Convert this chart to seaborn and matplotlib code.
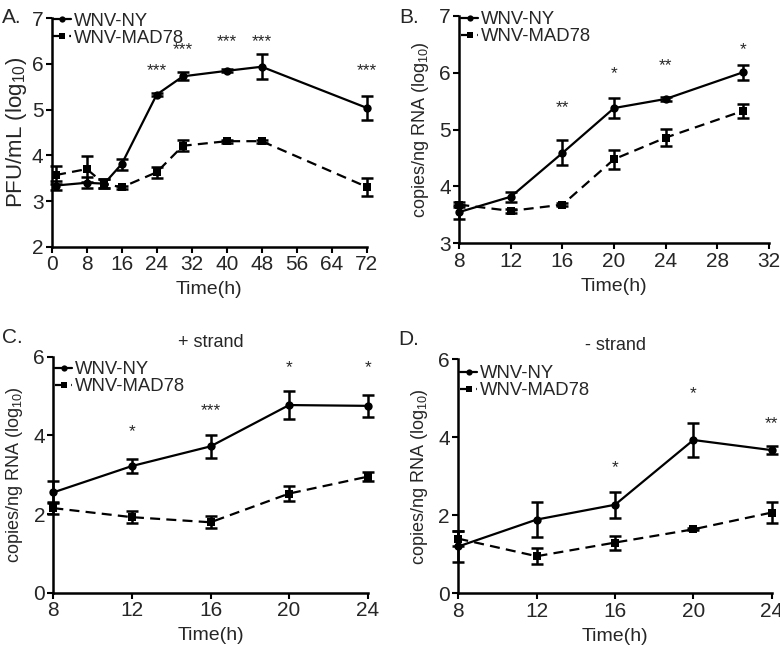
import numpy as np
import pandas as pd
import seaborn as sns
import matplotlib.pyplot as plt

# panel A: infectious virus titer
a_time = [1, 8, 12, 16, 24, 30, 40, 48, 72]
a_ny = [3.34, 3.40, 3.38, 3.81, 5.33, 5.73, 5.85, 5.94, 5.04]
a_ny_err = [0.10, 0.12, 0.10, 0.12, 0.03, 0.09, 0.03, 0.27, 0.27]
a_mad = [3.57, 3.70, 3.38, 3.30, 3.63, 4.21, 4.31, 4.31, 3.31]
a_mad_err = [0.20, 0.28, 0.10, 0.04, 0.12, 0.12, 0.03, 0.03, 0.20]
a_star_x = [24, 30, 40, 48, 72]
a_star_y = [5.85, 6.32, 6.50, 6.50, 5.85]
a_star = ['***', '***', '***', '***', '***']

# panel B: total viral RNA
b_time = [8, 12, 16, 20, 24, 30]
b_ny = [3.55, 3.82, 4.59, 5.38, 5.54, 6.01]
b_ny_err = [0.13, 0.09, 0.22, 0.18, 0.03, 0.13]
b_mad = [3.68, 3.57, 3.68, 4.48, 4.86, 5.33]
b_mad_err = [0.05, 0.03, 0.03, 0.17, 0.15, 0.12]
b_star_x = [16, 20, 24, 30]
b_star_y = [5.38, 5.98, 6.13, 6.40]
b_star = ['**', '*', '**', '*']

# panel C: + strand
c_time = [8, 12, 16, 20, 24]
c_ny = [2.55, 3.22, 3.72, 4.77, 4.75]
c_ny_err = [0.28, 0.18, 0.30, 0.35, 0.28]
c_mad = [2.15, 1.92, 1.79, 2.52, 2.95]
c_mad_err = [0.15, 0.15, 0.15, 0.20, 0.12]
c_star_x = [12, 16, 20, 24]
c_star_y = [4.10, 4.62, 5.72, 5.72]
c_star = ['*', '***', '*', '*']

# panel D: - strand
d_time = [8, 12, 16, 20, 24]
d_ny = [1.20, 1.89, 2.27, 3.93, 3.67]
d_ny_err = [0.40, 0.45, 0.33, 0.44, 0.10]
d_mad = [1.40, 0.95, 1.30, 1.64, 2.07]
d_mad_err = [0.20, 0.20, 0.18, 0.03, 0.27]
d_star_x = [16, 20, 24]
d_star_y = [3.22, 5.12, 4.35]
d_star = ['*', '*', '**']

sns.set_style('ticks')
plt.rcParams['font.family'] = ['Liberation Sans', 'DejaVu Sans']
plt.rcParams['mathtext.fontset'] = 'custom'
plt.rcParams['mathtext.rm'] = 'Liberation Sans'
plt.rcParams['mathtext.it'] = 'Liberation Sans'

fig = plt.figure(figsize=(7.8, 6.45), dpi=100)


def panel(rect, t, ny, ny_err, mad, mad_err, sx, sy, st, xlim, ylim, xticks, yticks,
          ylabel, ylab_size=13, ylab_pad=6, leg_y=1.02, title=None):
    ax = fig.add_axes(rect)
    df = pd.DataFrame({
        'time': list(t) * 2,
        'value': list(ny) + list(mad),
        'strain': ['WNV-NY'] * len(t) + ['WNV-MAD78'] * len(t),
    })
    sns.lineplot(data=df, x='time', y='value', style='strain', color='black',
                 markers={'WNV-NY': 'o', 'WNV-MAD78': 's'},
                 dashes={'WNV-NY': '', 'WNV-MAD78': (4.5, 2.8)},
                 markersize=6, markeredgewidth=0, linewidth=1.6, ax=ax,
                 clip_on=False, zorder=3)
    ax.errorbar(t, ny, yerr=ny_err, fmt='none', ecolor='black', elinewidth=1.8,
                capsize=4, capthick=1.8, clip_on=False, zorder=4)
    ax.errorbar(t, mad, yerr=mad_err, fmt='none', ecolor='black', elinewidth=1.8,
                capsize=4, capthick=1.8, clip_on=False, zorder=4)
    for x, y, s in zip(sx, sy, st):
        ax.text(x, y, s, ha='center', va='center', fontsize=12.5)
    ax.set_xlim(xlim)
    ax.set_ylim(ylim)
    ax.set_xticks(xticks)
    ax.set_yticks(yticks)
    ax.tick_params(axis='both', length=4, width=1.5, labelsize=15, pad=2, color='black')
    for side in ['left', 'bottom']:
        ax.spines[side].set_linewidth(1.8)
        ax.spines[side].set_color('black')
    sns.despine(ax=ax)
    ax.set_xlabel('Time(h)', fontsize=14, labelpad=5)
    ax.set_ylabel(ylabel, fontsize=ylab_size, labelpad=ylab_pad)
    leg = ax.legend(loc='upper left', bbox_to_anchor=(0.005, leg_y), frameon=False,
                    fontsize=13.3, handlelength=0.95, handletextpad=0.15,
                    labelspacing=0.0, borderpad=0, borderaxespad=0)
    for h in leg.legend_handles:
        h.set_markersize(4.5)
    if title:
        ax.set_title(title, fontsize=13, pad=7)
    return ax


rna = 'copies/ng RNA (log$_{10}$)'
panel([0.0663, 0.6175, 0.4038, 0.3541], a_time, a_ny, a_ny_err, a_mad, a_mad_err,
      a_star_x, a_star_y, a_star, (0, 72), (2, 7), range(0, 73, 8), range(2, 8),
      'PFU/mL (log$_{10}$)', ylab_size=16, ylab_pad=2, leg_y=1.025)
panel([0.5888, 0.6228, 0.3970, 0.3524], b_time, b_ny, b_ny_err, b_mad, b_mad_err,
      b_star_x, b_star_y, b_star, (8, 32), (3, 7), range(8, 33, 4), range(3, 8),
      rna, leg_y=1.02)
panel([0.0684, 0.0811, 0.4030, 0.3659], c_time, c_ny, c_ny_err, c_mad, c_mad_err,
      c_star_x, c_star_y, c_star, (8, 24), (0, 6), range(8, 25, 4), range(0, 7, 2),
      rna, leg_y=0.98, title='+ strand')
panel([0.5876, 0.0802, 0.4018, 0.3628], d_time, d_ny, d_ny_err, d_mad, d_mad_err,
      d_star_x, d_star_y, d_star, (8, 24), (0, 6), range(8, 25, 4), range(0, 7, 2),
      rna, leg_y=0.975, title='- strand')

fig.text(0.003, 0.988, 'A.', fontsize=15, va='top')
fig.text(0.512, 0.988, 'B.', fontsize=15, va='top')
fig.text(0.003, 0.492, 'C.', fontsize=15, va='top')
fig.text(0.510, 0.489, 'D.', fontsize=15, va='top')

fig.savefig('out.png', dpi=100)
